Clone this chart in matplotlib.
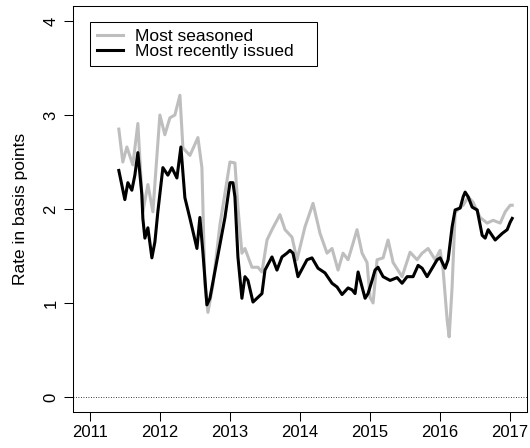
import numpy as np
import matplotlib
matplotlib.use("Agg")
import matplotlib.pyplot as plt

plt.rcParams['font.family'] = ['Liberation Sans', 'DejaVu Sans']

# most seasoned (gray)
seasoned_t = [2011.414, 2011.471, 2011.529, 2011.614, 2011.686, 2011.757, 2011.829, 2011.900,
              2012.000, 2012.071, 2012.143, 2012.214, 2012.286, 2012.329, 2012.429, 2012.543,
              2012.600, 2012.643, 2012.686, 2012.757, 2012.857, 2013.000, 2013.071, 2013.114,
              2013.171, 2013.214, 2013.314, 2013.400, 2013.457, 2013.529, 2013.600, 2013.714,
              2013.786, 2013.886, 2013.957, 2014.071, 2014.186, 2014.286, 2014.386, 2014.457,
              2014.543, 2014.614, 2014.686, 2014.743, 2014.814, 2014.886, 2014.957, 2015.000,
              2015.043, 2015.100, 2015.186, 2015.257, 2015.329, 2015.457, 2015.571, 2015.671,
              2015.743, 2015.829, 2015.929, 2016.000, 2016.043, 2016.100, 2016.129, 2016.171,
              2016.214, 2016.286, 2016.329, 2016.400, 2016.471, 2016.571, 2016.671, 2016.757,
              2016.857, 2016.929, 2017.000, 2017.029]
seasoned_v = [2.85, 2.50, 2.66, 2.47, 2.91, 1.97, 2.26, 1.97,
              3.00, 2.79, 2.97, 3.00, 3.21, 2.65, 2.57, 2.76,
              2.44, 1.19, 0.90, 1.19, 1.83, 2.50, 2.49, 2.02,
              1.53, 1.58, 1.38, 1.38, 1.33, 1.67, 1.78, 1.94,
              1.78, 1.70, 1.46, 1.81, 2.06, 1.74, 1.53, 1.58,
              1.35, 1.53, 1.46, 1.60, 1.78, 1.53, 1.43, 1.06,
              1.00, 1.46, 1.48, 1.67, 1.43, 1.28, 1.54, 1.46,
              1.53, 1.58, 1.46, 1.56, 1.35, 0.82, 0.64, 1.17,
              1.96, 2.02, 2.04, 2.13, 2.07, 1.91, 1.85, 1.88,
              1.85, 1.97, 2.04, 2.04]

# most recently issued (black)
recent_t = [2011.414, 2011.500, 2011.543, 2011.600, 2011.643, 2011.686, 2011.743, 2011.757,
            2011.786, 2011.829, 2011.886, 2011.929, 2011.971, 2012.043, 2012.114, 2012.171,
            2012.243, 2012.300, 2012.357, 2012.429, 2012.529, 2012.571, 2012.614, 2012.671,
            2012.714, 2012.829, 2012.929, 2013.000, 2013.043, 2013.071, 2013.114, 2013.171,
            2013.214, 2013.257, 2013.329, 2013.400, 2013.457, 2013.500, 2013.600, 2013.671,
            2013.743, 2013.814, 2013.857, 2013.900, 2013.971, 2014.100, 2014.171, 2014.257,
            2014.357, 2014.457, 2014.529, 2014.600, 2014.686, 2014.743, 2014.786, 2014.829,
            2014.886, 2014.929, 2014.971, 2015.029, 2015.071, 2015.114, 2015.186, 2015.286,
            2015.386, 2015.457, 2015.529, 2015.614, 2015.686, 2015.743, 2015.814, 2015.886,
            2015.957, 2016.000, 2016.071, 2016.114, 2016.171, 2016.214, 2016.286, 2016.329,
            2016.357, 2016.400, 2016.457, 2016.529, 2016.600, 2016.643, 2016.686, 2016.786,
            2016.886, 2016.957, 2017.000, 2017.029]
recent_v = [2.41, 2.10, 2.28, 2.20, 2.36, 2.60, 2.15, 1.90,
            1.69, 1.80, 1.48, 1.65, 1.97, 2.44, 2.36, 2.44,
            2.33, 2.66, 2.12, 1.90, 1.58, 1.91, 1.54, 0.98,
            1.05, 1.51, 1.91, 2.28, 2.28, 2.13, 1.49, 1.05,
            1.28, 1.24, 1.01, 1.06, 1.10, 1.35, 1.49, 1.35,
            1.49, 1.53, 1.56, 1.53, 1.28, 1.46, 1.48, 1.37,
            1.32, 1.21, 1.17, 1.09, 1.16, 1.14, 1.10, 1.33,
            1.17, 1.05, 1.10, 1.24, 1.35, 1.38, 1.28, 1.24,
            1.27, 1.21, 1.28, 1.28, 1.40, 1.37, 1.28, 1.37,
            1.46, 1.48, 1.37, 1.46, 1.81, 1.99, 2.01, 2.13,
            2.18, 2.13, 2.02, 1.99, 1.72, 1.69, 1.78, 1.67,
            1.74, 1.78, 1.86, 1.90]

year_ticks = [2011, 2012, 2013, 2014, 2015, 2016, 2017]
rate_ticks = [0, 1, 2, 3, 4]

fig = plt.figure(figsize=(5.3, 4.48), dpi=100)
ax = fig.add_axes([73 / 530, 36 / 448, 454 / 530, 406 / 448])

ax.axhline(0, color='black', lw=0.6, ls=(0, (1, 2)))
ax.plot(seasoned_t, seasoned_v, color='#bebebe', lw=2.2, label='Most seasoned')
ax.plot(recent_t, recent_v, color='black', lw=2.2, label='Most recently issued')

ax.set_xlim(2011 - 0.24, 2017 + 0.24)
ax.set_ylim(-0.16, 4.16)
ax.set_xticks(year_ticks)
ax.set_yticks(rate_ticks)
ax.tick_params(length=6.5, width=0.75, labelsize=12, color='black')
ax.tick_params(axis='x', pad=3)
ax.tick_params(axis='y', pad=4)
for lab in ax.get_yticklabels():
    lab.set_rotation(90)
    lab.set_va('center')
for sp in ax.spines.values():
    sp.set_linewidth(0.75)

ax.set_ylabel('Rate in basis points', fontsize=12.5, labelpad=11)

# legend box stretched to the width R gives it
ax.legend(loc='upper left', bbox_to_anchor=(17 / 454, 0, 227 / 454, 390 / 406),
          mode='expand', borderaxespad=0,
          fontsize=12.5, fancybox=False, edgecolor='black', framealpha=1,
          handlelength=1.5, handletextpad=0.7, labelspacing=0.0, borderpad=0.4)
ax.get_legend().get_frame().set_linewidth(0.75)

fig.savefig('out.png', dpi=100)
